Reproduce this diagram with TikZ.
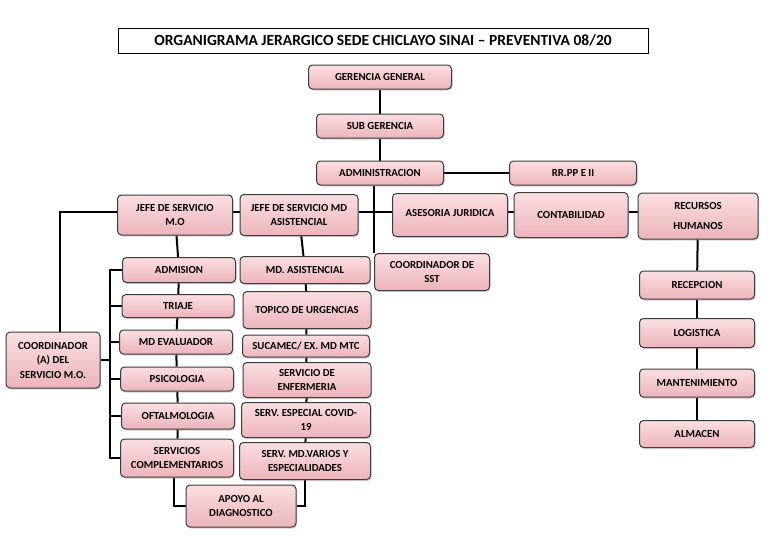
\documentclass[tikz,border=0pt]{standalone}
\usepackage{fontspec}
\setmainfont{Carlito}
\usepackage{xcolor}
\usepackage{tikz}
\usetikzlibrary{shadows, backgrounds}

\definecolor{boxtop}{RGB}{250,222,225}
\definecolor{boxbot}{RGB}{236,180,186}
\definecolor{boxline}{RGB}{60,60,60}

\begin{document}
\begin{tikzpicture}[x=1pt, y=-1pt,
    unit/.style={rectangle, rounded corners=4pt, draw=boxline, line width=1pt,
        top color=boxtop, bottom color=boxbot, drop shadow={opacity=0.35, shadow xshift=1pt, shadow yshift=-1.5pt},
        align=center, inner sep=1pt, text=black,
        font=\fontsize{10.8}{14.5}\selectfont\bfseries},
    link/.style={line width=2pt, black}]
    \useasboundingbox (0,0) rectangle (768,544);

    % Title
    \node[draw, line width=0.8pt, minimum width=530pt, minimum height=25pt,
          font=\fontsize{15.5}{17}\selectfont\bfseries] (title) at (383,40.5)
          {ORGANIGRAMA JERARGICO SEDE CHICLAYO SINAI -- PREVENTIVA 08/20};

    % Top chain
    \node[unit, minimum width=143pt, minimum height=24pt] (gg)   at (380,77)  {GERENCIA GENERAL};
    \node[unit, minimum width=127pt, minimum height=24pt] (sg)   at (380,126) {SUB GERENCIA};
    \node[unit, minimum width=127pt, minimum height=24pt] (adm)  at (380,173) {ADMINISTRACION};
    \node[unit, minimum width=127pt, minimum height=24pt] (rrpp) at (573,173) {RR.PP E II};

    % Row of jefes and areas
    \node[unit, minimum width=115pt, minimum height=40pt] (jmo)  at (175,215) {JEFE DE SERVICIO\\M.O};
    \node[unit, minimum width=118pt, minimum height=41pt] (jmd)  at (299,215) {JEFE DE SERVICIO MD\\ASISTENCIAL};
    \node[unit, minimum width=115pt, minimum height=43pt] (aj)   at (450,215) {\raisebox{4pt}{ASESORIA JURIDICA}};
    \node[unit, minimum width=114pt, minimum height=45pt] (cont) at (571,215) {CONTABILIDAD};
    \node[unit, minimum width=120pt, minimum height=46pt,
          font=\fontsize{10.8}{20}\selectfont\bfseries] (rrhh) at (698,216) {RECURSOS\\HUMANOS};
    \node[unit, minimum width=115pt, minimum height=37pt] (sst)  at (432,272) {COORDINADOR DE\\SST};

    % Servicio M.O.
    \node[unit, minimum width=94pt, minimum height=56pt] (coord) at (53,360)
          {COORDINADOR\\(A) DEL\\SERVICIO M.O.};
    \node[unit, minimum width=113pt, minimum height=25pt] (admi)  at (179,270) {ADMISION};
    \node[unit, minimum width=112pt, minimum height=23pt] (tri)   at (178,306) {TRIAJE};
    \node[unit, minimum width=113pt, minimum height=24pt] (mdev)  at (176,342) {MD EVALUADOR};
    \node[unit, minimum width=113pt, minimum height=24pt] (psi)   at (177,379) {PSICOLOGIA};
    \node[unit, minimum width=113pt, minimum height=26pt] (oft)   at (178,416) {OFTALMOLOGIA};
    \node[unit, minimum width=113pt, minimum height=38pt] (scomp) at (177,458) {SERVICIOS\\COMPLEMENTARIOS};

    % MD asistencial
    \node[unit, minimum width=130pt, minimum height=27pt] (mda)   at (305,270) {MD. ASISTENCIAL};
    \node[unit, minimum width=128pt, minimum height=37pt] (top)   at (307,310) {TOPICO DE URGENCIAS};
    \node[unit, minimum width=127pt, minimum height=22pt] (suc)   at (306,346) {SUCAMEC/ EX. MD MTC};
    \node[unit, minimum width=128pt, minimum height=35pt] (enf)   at (307,380) {SERVICIO DE\\ENFERMERIA};
    \node[unit, minimum width=129pt, minimum height=35pt] (cov)   at (306,420) {SERV. ESPECIAL COVID-\\19};
    \node[unit, minimum width=131pt, minimum height=37pt] (var)   at (305,461) {SERV. MD.VARIOS Y\\ESPECIALIDADES};
    \node[unit, minimum width=110pt, minimum height=42pt] (apoyo) at (241,506) {APOYO AL\\DIAGNOSTICO};

    % Recursos humanos
    \node[unit, minimum width=115pt, minimum height=28pt] (rec)  at (697,285) {RECEPCION};
    \node[unit, minimum width=115pt, minimum height=29pt] (log)  at (697,333) {LOGISTICA};
    \node[unit, minimum width=115pt, minimum height=28pt] (mant) at (697,383) {MANTENIMIENTO};
    \node[unit, minimum width=115pt, minimum height=27pt] (alm)  at (697,434) {ALMACEN};

    % Connectors (behind the boxes)
    \coordinate (brk) at (110,270);
    \begin{scope}[on background layer]
    \draw[link] (gg) -- (sg);
    \draw[link] (sg) -- (adm);
    \draw[link] (adm) -- (rrpp);
    \draw[link] (adm.south -| sst.170) -- (sst.170 |- sst.north);
    \draw[link] (jmo.east |- 0,212) -- (jmd.west |- 0,212);
    \draw[link] (jmd.east |- 0,212) -- (aj.west |- 0,212);
    \draw[link] (aj.east |- 0,212) -- (cont.west |- 0,212);
    \draw[link] (cont.east |- 0,212) -- (rrhh.west |- 0,212);
    \draw[link] (jmo.west |- 0,212) -| ([xshift=7pt]coord.north);
    \draw[link] (jmo) -- (admi);
    \foreach \a/\b in {admi/tri, tri/mdev, mdev/psi, psi/oft, oft/scomp} {
        \draw[link] (\a) -- (\b);
    }
    \draw[link] (admi.west) -- (admi.west -| brk) |- (scomp.west);
    \foreach \n in {tri, mdev, psi, oft} {
        \draw[link] (\n.west) -- (\n.west -| brk);
    }
    \draw[link] (coord.east) -- (coord.east -| brk);
    \foreach \a/\b in {jmd/mda, mda/top, top/suc, suc/enf, enf/cov, cov/var} {
        \draw[link] (\a) -- (\b);
    }
    \draw[link] (scomp.south -| 174,0) |- (apoyo.west);
    \draw[link] (var.south) |- (apoyo.east);
    \foreach \a/\b in {rrhh/rec, rec/log, log/mant, mant/alm} {
        \draw[link] (\a) -- (\b);
    }
    \end{scope}
\end{tikzpicture}
\end{document}
